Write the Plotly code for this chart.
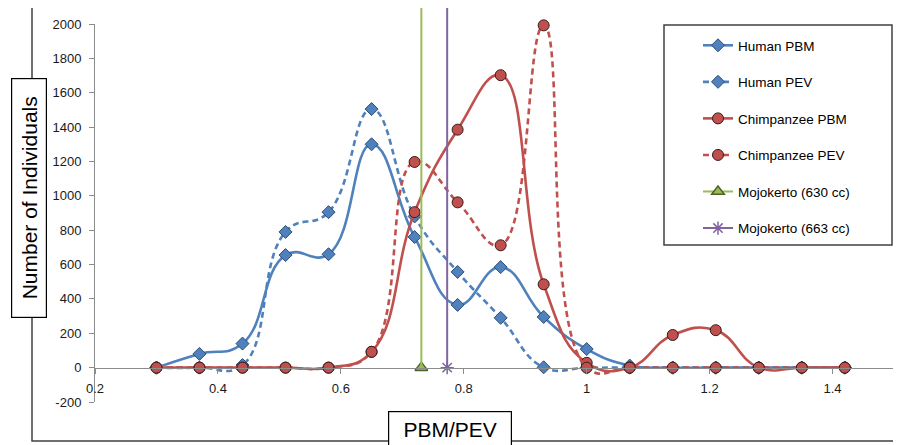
import plotly.graph_objects as go

# ---- data ----
ratio = [0.30, 0.37, 0.44, 0.51, 0.58, 0.65, 0.72, 0.79, 0.86, 0.93, 1.00,
         1.07, 1.14, 1.21, 1.28, 1.35, 1.42]
human_pbm = [0, 80, 140, 655, 660, 1300, 760, 365, 585, 295, 108, 12, 0, 0, 0, 0, 0]
human_pev = [0, 0, 15, 790, 905, 1505, 880, 557, 290, 2, 0, 0, 0, 0, 0, 0, 0]
chimp_pbm = [0, 0, 0, 0, 0, 92, 905, 1385, 1702, 485, 28, 0, 190, 218, 0, 0, 0]
chimp_pev = [0, 0, 0, 0, 0, 92, 1197, 962, 712, 1992, 0, 0, 0, 0, 0, 0, 0]
mojo_names = ["Mojokerto (630 cc)", "Mojokerto (663 cc)"]
mojo_x = [0.731, 0.773]
mojo_y = [0, 0]
x_ticks = [0.2, 0.4, 0.6, 0.8, 1.0, 1.2, 1.4]
x_tick_text = ["0.2", "0.4", "0.6", "0.8", "1", "1.2", "1.4"]
y_ticks = [-200, 0, 200, 400, 600, 800, 1000, 1200, 1400, 1600, 1800, 2000]
y_tick_text = ["-200", "0", "200", "400", "600", "800", "1000", "1200",
               "1400", "1600", "1800", "2000"]

# ---- styles ----
BLUE = "#4F81BD"
BLUE_EDGE = "#2C4D75"
RED = "#C0504D"
RED_EDGE = "#3A1A1A"
GREEN = "#9BBB59"
PURPLE = "#8064A2"
AXIS = "#8C8C8C"
FONT = "Liberation Sans"
YMIN, YMAX = -200, 2000
XMIN, XMAX = 0.2, 1.5

# page has an 8px body margin; positions below are in screenshot pixels
OFF = 8
W, H = 901 - OFF, 445 - OFF
L, R, T, B = 95, 894, 24, 402   # plot area in screenshot pixels


def px_x(p):
    return (p - L) / (R - L)


def px_y(p):
    return (B - p) / (B - T)


fig = go.Figure()

series = [
    ("Human PBM", human_pbm, BLUE, "solid", "diamond", 10, BLUE_EDGE),
    ("Human PEV", human_pev, BLUE, "6px,4px", "diamond", 10, BLUE_EDGE),
    ("Chimpanzee PBM", chimp_pbm, RED, "solid", "circle", 11, RED_EDGE),
    ("Chimpanzee PEV", chimp_pev, RED, "6px,4px", "circle", 11, RED_EDGE),
]
for i, (name, vals, col, dash, sym, size, edge) in enumerate(series):
    fig.add_trace(go.Scatter(
        x=ratio, y=vals, name=name, mode="lines+markers",
        line=dict(color=col, width=2.6, dash=dash, shape="spline", smoothing=1.3),
        marker=dict(symbol=sym, size=size, color=col, line=dict(color=edge, width=1)),
        legendgroup=f"g{i}",
        cliponaxis=False,
    ))

mojo_cols = [GREEN, PURPLE]
mojo_syms = ["triangle-up", "asterisk"]
mojo_edges = ["#4F6228", PURPLE]
for j in range(2):
    fig.add_trace(go.Scatter(
        x=[mojo_x[j]], y=[mojo_y[j]], name=mojo_names[j], mode="lines+markers",
        line=dict(color=mojo_cols[j], width=2),
        marker=dict(symbol=mojo_syms[j], size=11, color=mojo_cols[j],
                    line=dict(color=mojo_edges[j], width=1.5)),
        legendgroup=f"m{j}",
        cliponaxis=False,
    ))

zero_paper = (0 - YMIN) / (YMAX - YMIN)
shapes = []
# outer chart frame
shapes.append(dict(type="rect", xref="paper", yref="paper",
                   x0=px_x(32), x1=px_x(906), y0=px_y(441), y1=px_y(7),
                   line=dict(color="#404040", width=1.5), layer="below"))
# legend box
shapes.append(dict(type="rect", xref="paper", yref="paper",
                   x0=px_x(664), x1=px_x(892), y0=px_y(245), y1=px_y(25),
                   line=dict(color="#404040", width=1.5), fillcolor="white", layer="below"))
# Mojokerto vertical lines
for j in range(2):
    shapes.append(dict(type="line", xref="x", yref="paper",
                       x0=mojo_x[j], x1=mojo_x[j], y0=zero_paper, y1=px_y(5),
                       line=dict(color=mojo_cols[j], width=2), layer="above"))

fig.update_layout(
    width=W, height=H,
    margin=dict(l=L - OFF, r=W - (R - OFF), t=T - OFF, b=H - (B - OFF), pad=0),
    paper_bgcolor="white", plot_bgcolor="rgba(0,0,0,0)",
    font=dict(family=FONT, size=13, color="#1a1a1a"),
    shapes=shapes,
    showlegend=True,
    legend=dict(
        x=px_x(698), y=px_y(30), xanchor="left", yanchor="top",
        bgcolor="rgba(0,0,0,0)", borderwidth=0,
        font=dict(family=FONT, size=13.5, color="#000000"),
        tracegroupgap=16, itemwidth=30,
    ),
    xaxis=dict(
        range=[XMIN, XMAX], tickvals=x_ticks, ticktext=x_tick_text,
        showline=True, linecolor=AXIS, linewidth=1,
        ticks="outside", ticklen=5, tickcolor=AXIS,
        showgrid=False, zeroline=False,
        anchor="free", position=zero_paper,
        ticklabelstandoff=4,
        tickfont=dict(family=FONT, size=13, color="#1a1a1a"),
    ),
    yaxis=dict(
        range=[YMIN, YMAX], tickvals=y_ticks, ticktext=y_tick_text,
        showline=True, linecolor=AXIS, linewidth=1,
        ticks="outside", ticklen=5, tickcolor=AXIS,
        showgrid=False, zeroline=False,
        ticklabelstandoff=5,
        tickfont=dict(family=FONT, size=13, color="#1a1a1a"),
    ),
    annotations=[
        dict(text="Number of Individuals", textangle=-90,
             xref="paper", yref="paper", x=px_x(29), y=px_y(198),
             xanchor="center", yanchor="middle", showarrow=False,
             font=dict(family=FONT, size=21, color="#000000"),
             bgcolor="white", bordercolor="#000000", borderwidth=1.2,
             borderpad=5, width=228, height=24),
        dict(text="PBM/PEV",
             xref="paper", yref="paper", x=px_x(450), y=px_y(429),
             xanchor="center", yanchor="middle", showarrow=False,
             font=dict(family=FONT, size=21, color="#000000"),
             bgcolor="white", bordercolor="#000000", borderwidth=1.2,
             borderpad=5, width=112, height=24),
    ],
)

fig.write_html("out.html")
